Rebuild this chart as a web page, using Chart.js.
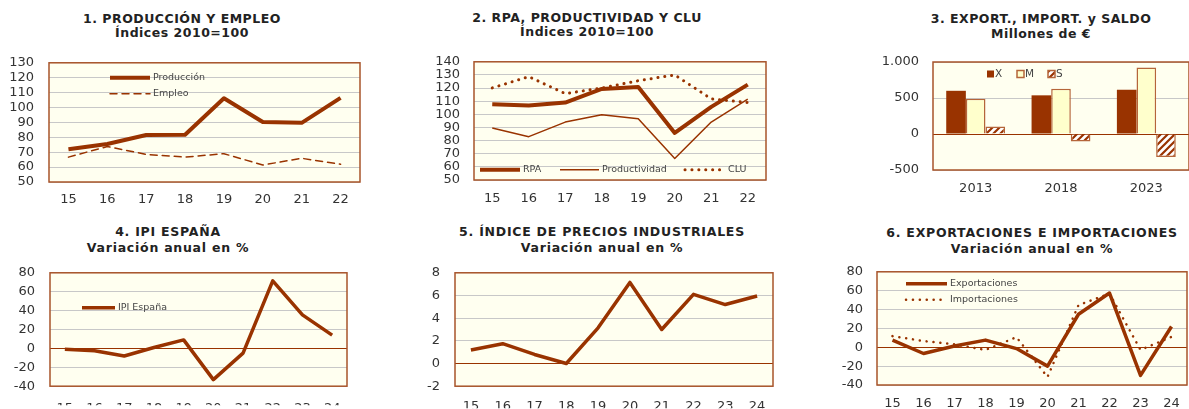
<!DOCTYPE html>
<html>
<head>
<meta charset="utf-8">
<script src="https://cdn.jsdelivr.net/npm/chart.js@4.4.1/dist/chart.umd.min.js"></script>
<style>
  body { margin: 0; background: #fff; width: 1189px; height: 409px; position: relative; overflow: hidden; font-family: "DejaVu Sans", Verdana, sans-serif; }
  canvas { position: absolute; }
  .tit { position: absolute; width: 360px; text-align: center; font-weight: bold; font-size: 12.5px; color: #222; white-space: nowrap; letter-spacing: 0.5px; }
  .low { letter-spacing: 0.75px; }
</style>
</head>
<body>

<div class="tit" style="left:2px;top:12px;line-height:14px">1. PRODUCCIÓN Y EMPLEO<br>Índices 2010=100</div>
<div class="tit" style="left:407px;top:11px;line-height:14px">2. RPA, PRODUCTIVIDAD Y CLU<br>Índices 2010=100</div>
<div class="tit" style="left:861px;top:11px;line-height:15px">3. EXPORT., IMPORT. y SALDO<br>Millones de €</div>
<div class="tit low" style="left:-12px;top:224px;line-height:16px">4. IPI ESPAÑA<br>Variación anual en %</div>
<div class="tit low" style="left:422px;top:224px;line-height:16px">5. ÍNDICE DE PRECIOS INDUSTRIALES<br>Variación anual en %</div>
<div class="tit low" style="left:852px;top:225px;line-height:16px">6. EXPORTACIONES E IMPORTACIONES<br>Variación anual en %</div>

<canvas id="c1" width="400" height="170" style="left:0;top:40px"></canvas>
<canvas id="c2" width="400" height="170" style="left:400px;top:40px"></canvas>
<canvas id="c3" width="389" height="170" style="left:800px;top:40px"></canvas>
<canvas id="c4" width="400" height="159" style="left:0;top:250px"></canvas>
<canvas id="c5" width="400" height="159" style="left:400px;top:250px"></canvas>
<canvas id="c6" width="389" height="159" style="left:800px;top:250px"></canvas>

<script>
// 1. Producción y empleo (índices 2010=100)
const years8 = ['15', '16', '17', '18', '19', '20', '21', '22'];
const produccion = [72, 75.5, 81.5, 81.7, 106.2, 90.3, 89.7, 106.5];
const empleo = [66.7, 73.8, 68.5, 66.7, 69, 61.4, 65.9, 61.9];

// 2. RPA, productividad y CLU
const rpa = [107.7, 106.7, 109, 119.3, 120.8, 85.8, 105.7, 122.6];
const productividad = [89.6, 83, 94.1, 99.7, 96.6, 66.4, 94.1, 111.5];
const clu = [120.1, 128.7, 115.8, 120, 125.6, 130, 111.8, 109];

// 3. Export., import. y saldo (millones de €)
const years3 = ['2013', '2018', '2023'];
const exportX = [600, 537, 615];
const importM = [490, 630, 925];
const saldoS = [105, -105, -320];

// 4-6. Variación anual en %
const years10 = ['15', '16', '17', '18', '19', '20', '21', '22', '23', '24'];
const ipi = [-1, -2.5, -8, 1, 9, -33, -5, 71.5, 35.5, 14];
const precios = [1.2, 1.75, 0.8, 0, 3.15, 7.15, 3, 6.1, 5.2, 5.95];
const exportaciones = [7.6, -6.6, 1.4, 7.6, -1.4, -20, 35, 57.5, -29.8, 22];
const importaciones = [11.8, 6.6, 3.1, -2.8, 10.7, -31.5, 44.7, 56.8, -2.8, 11];

const BROWN = '#993300';
const FRAME = '#a8542a';
const GRID = '#c8c8c8';
const PLOT_BG = '#fffff0';

Chart.defaults.font.family = '"DejaVu Sans", Verdana, sans-serif';
Chart.defaults.font.size = 13;
Chart.defaults.color = '#333';

// fondo del área de trazado y marco
const frame = {
  id: 'frame',
  beforeDraw(chart) {
    const { ctx, chartArea: a } = chart;
    ctx.save();
    ctx.fillStyle = PLOT_BG;
    ctx.fillRect(a.left, a.top, a.width, a.height);
    ctx.restore();
  },
  afterDatasetsDraw(chart) {
    const { ctx, chartArea: a } = chart;
    ctx.save();
    ctx.strokeStyle = FRAME;
    ctx.lineWidth = 1.5;
    ctx.strokeRect(a.left, a.top, a.width, a.height);
    ctx.restore();
  }
};

// leyenda dentro del área de trazado
const floatLegend = {
  id: 'floatLegend',
  afterDraw(chart, args, opts) {
    if (!opts.items) return;
    const { ctx, chartArea: a } = chart;
    ctx.save();
    ctx.font = (opts.box ? '10.5px' : '9.5px') + ' "DejaVu Sans", Verdana, sans-serif';
    ctx.textBaseline = 'middle';
    chart.data.datasets.forEach((ds, i) => {
      const it = opts.items[i];
      if (!it) return;
      const x = a.left + it.dx, y = a.top + it.dy;
      let tx;
      if (opts.box) {
        ctx.fillStyle = ds.backgroundColor;
        ctx.fillRect(x, y - 3.5, 7, 7);
        if (ds.borderWidth) {
          ctx.strokeStyle = ds.borderColor;
          ctx.lineWidth = 1.5;
          ctx.strokeRect(x, y - 3.5, 7, 7);
        }
        tx = x + 8;
      } else {
        ctx.strokeStyle = ds.borderColor;
        ctx.lineWidth = ds.borderWidth;
        ctx.lineCap = ds.borderCapStyle || 'round';
        ctx.setLineDash(ds.borderDash || []);
        ctx.beginPath();
        ctx.moveTo(x, y);
        ctx.lineTo(x + it.len, y);
        ctx.stroke();
        ctx.setLineDash([]);
        tx = x + it.len + 3;
      }
      ctx.fillStyle = '#444';
      ctx.fillText(ds.label, tx, y);
    });
    ctx.restore();
  }
};

Chart.register(frame, floatLegend);

function hatch() {
  const c = document.createElement('canvas');
  c.width = c.height = 7;
  const g = c.getContext('2d');
  g.fillStyle = '#fff';
  g.fillRect(0, 0, 7, 7);
  g.strokeStyle = BROWN;
  g.lineWidth = 2.2;
  g.beginPath();
  g.moveTo(0, 7); g.lineTo(7, 0);
  g.moveTo(-2, 2); g.lineTo(2, -2);
  g.moveTo(5, 9); g.lineTo(9, 5);
  g.stroke();
  return g.createPattern(c, 'repeat');
}

// canvas: [left, top, width, height]; plot: [x1, y1, x2, y2] en coordenadas de página
function buildChart(id, canvasBox, plot, yOpts, xPad, type, labels, datasets, legend) {
  const [cl, ct, cw, ch] = canvasBox;
  const [x1, y1, x2, y2] = plot;
  return new Chart(document.getElementById(id), {
    type: type,
    data: { labels: labels, datasets: datasets },
    options: {
      responsive: false,
      animation: false,
      layout: { padding: { left: 0, top: y1 - ct, right: cl + cw - x2, bottom: 0 } },
      plugins: {
        legend: { display: false },
        tooltip: { enabled: false },
        floatLegend: legend || {}
      },
      elements: {
        point: { radius: 0 },
        line: { tension: 0, borderJoinStyle: 'round' }
      },
      datasets: { bar: { categoryPercentage: 0.69, barPercentage: 1 } },
      scales: {
        x: {
          offset: true,
          grid: { display: false },
          border: { display: false },
          ticks: { padding: xPad, maxRotation: 0, autoSkip: false },
          afterFit: s => { s.height = ct + ch - y2; }
        },
        y: {
          min: yOpts.min,
          max: yOpts.max,
          border: { display: false },
          grid: {
            drawTicks: false,
            lineWidth: 1,
            color: c => (c.tick && c.tick.value === 0 && yOpts.min < 0) ? BROWN : GRID
          },
          ticks: {
            stepSize: yOpts.step,
            padding: yOpts.pad,
            autoSkip: false,
            callback: yOpts.fmt || (v => v)
          },
          afterFit: s => { s.width = x1 - cl; }
        }
      }
    }
  });
}

function lineSet(label, data, width, dash) {
  return {
    label: label,
    data: data,
    borderColor: BROWN,
    backgroundColor: BROWN,
    borderWidth: width,
    borderDash: dash || [],
    borderCapStyle: dash ? 'round' : 'butt',
    fill: false
  };
}

const dots = [0.1, 6.8];

buildChart('c1', [0, 40, 400, 170], [49, 61, 360, 182],
  { min: 50, max: 130, step: 10, pad: 15 }, 2, 'line', years8,
  [lineSet('Producción', produccion, 4), lineSet('Empleo', empleo, 1.5, [7, 5])],
  { items: [{ dx: 61, dy: 15, len: 40 }, { dx: 61, dy: 31, len: 40 }] });

buildChart('c2', [400, 40, 400, 170], [474, 61, 766, 180],
  { min: 50, max: 140, step: 10, pad: 14 }, 3, 'line', years8,
  [lineSet('RPA', rpa, 4), lineSet('Productividad', productividad, 1.5), lineSet('CLU', clu, 3, dots)],
  { items: [{ dx: 6, dy: 108, len: 40 }, { dx: 86, dy: 108, len: 39 }, { dx: 211, dy: 108, len: 40 }] });

const thousands = v => (v < 0 ? '-' : '') + String(Math.abs(v)).replace(/\B(?=(\d{3})+(?!\d))/g, '.');

buildChart('c3', [800, 40, 389, 170], [933, 62, 1191, 170],
  { min: -500, max: 1000, step: 500, pad: 14, fmt: thousands }, 3, 'bar', years3,
  [
    { label: 'X', data: exportX, backgroundColor: BROWN, borderColor: BROWN, borderWidth: 0 },
    { label: 'M', data: importM, backgroundColor: '#ffffcc', borderColor: '#b5653a', borderWidth: 1.5 },
    { label: 'S', data: saldoS, backgroundColor: hatch(), borderColor: '#b5653a', borderWidth: 1.5 }
  ],
  { box: true, items: [{ dx: 54, dy: 12 }, { dx: 84, dy: 12 }, { dx: 115, dy: 12 }] });

buildChart('c4', [0, 250, 400, 159], [50, 271, 347, 390],
  { min: -40, max: 80, step: 20, pad: 15 }, 7, 'line', years10,
  [lineSet('IPI España', ipi, 3.5)],
  { items: [{ dx: 32, dy: 35, len: 33 }] });

buildChart('c5', [400, 250, 400, 159], [455, 268, 773, 387],
  { min: -2, max: 8, step: 2, pad: 15 }, 5, 'line', years10,
  [lineSet('Índice de precios industriales', precios, 3.5)]);

buildChart('c6', [800, 250, 389, 159], [877, 270, 1187, 385],
  { min: -40, max: 80, step: 20, pad: 14 }, 3, 'line', years10,
  [lineSet('Exportaciones', exportaciones, 3.5), lineSet('Importaciones', importaciones, 2.5, dots)],
  { items: [{ dx: 29, dy: 12, len: 41 }, { dx: 29, dy: 28, len: 41 }] });
</script>
</body>
</html>
